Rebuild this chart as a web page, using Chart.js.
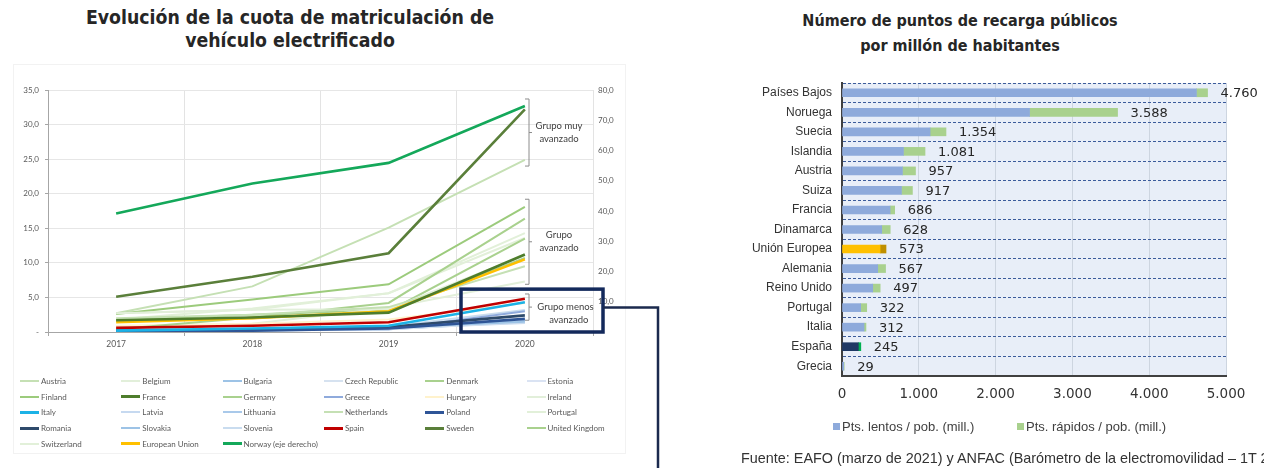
<!DOCTYPE html>
<html>
<head>
<meta charset="utf-8">
<script src="https://cdn.jsdelivr.net/npm/chart.js@4.4.1/dist/chart.umd.min.js"></script>
<style>
html,body{margin:0;padding:0;background:#fff;}
body{width:1264px;height:468px;overflow:hidden;position:relative;}
.abs{position:absolute;}
.title{font-family:"DejaVu Sans Condensed","Liberation Sans Narrow","DejaVu Sans",sans-serif;font-weight:bold;color:#262626;text-align:center;white-space:nowrap;}
#frame{left:13px;top:64px;width:611px;height:388px;border:1px solid #f2f2f2;}
.lg{position:absolute;font-family:Lato,sans-serif;font-size:8px;color:#595959;white-space:nowrap;line-height:10px;}
.lg i{position:absolute;left:-21px;top:4px;width:19px;height:2px;}
.rl{position:absolute;font-family:"Liberation Sans",Arial,sans-serif;font-size:13px;color:#404040;white-space:nowrap;line-height:14px;}
.rl i{position:absolute;left:-9px;top:3px;width:7px;height:7px;}
#src{left:741px;top:450px;font-family:"Liberation Sans",Arial,sans-serif;font-size:14.4px;color:#333;white-space:nowrap;}
</style>
</head>
<body>
<div id="frame" class="abs"></div>
<div class="abs title" style="left:40px;top:6px;width:500px;font-size:19.3px;line-height:23px;">Evolución de la cuota de matriculación de<br>vehículo electrificado</div>
<div class="abs title" style="left:760px;top:8px;width:400px;font-size:16px;line-height:25px;">Número de puntos de recarga públicos<br>por millón de habitantes</div>
<canvas id="left" class="abs" style="left:0;top:0;" width="670" height="468"></canvas>
<canvas id="right" class="abs" style="left:740px;top:0;" width="524" height="468"></canvas>
<div id="legendLeft"></div>
<div id="legendRight"></div>
<div id="src" class="abs">Fuente: EAFO (marzo de 2021) y ANFAC (Barómetro de la electromovilidad – 1T 2021)</div>
<script>
// ---------- Left chart data: share of electrified vehicle registrations (%) ----------
const years = ['2017', '2018', '2019', '2020'];
const austria       = [2.0, 2.5, 3.6, 9.5];
const belgium       = [2.7, 3.2, 3.3, 11.1];
const bulgaria      = [0.3, 0.4, 0.6, 1.5];
const czechRepublic = [0.2, 0.3, 0.4, 1.4];
const denmark       = [0.4, 2.1, 4.2, 16.4];
const estonia       = [0.3, 0.4, 0.6, 1.9];
const finland       = [2.6, 4.7, 6.9, 18.1];
const france        = [1.7, 2.1, 2.8, 11.2];
const germany       = [1.6, 2.0, 3.0, 13.5];
const greece        = [0.1, 0.3, 0.4, 3.0];
const hungary       = [0.9, 1.2, 1.8, 4.2];
const ireland       = [0.8, 1.2, 3.5, 7.3];
const italy         = [0.2, 0.5, 0.9, 4.3];
const latvia        = [0.3, 0.3, 0.5, 1.3];
const lithuania     = [0.2, 0.3, 0.4, 1.5];
const netherlands   = [2.7, 6.6, 15.1, 24.9];
const poland        = [0.1, 0.2, 0.5, 1.9];
const portugal      = [1.8, 3.4, 5.6, 13.6];
const romania       = [0.2, 0.3, 0.7, 2.4];
const slovakia      = [0.2, 0.2, 0.4, 1.6];
const slovenia      = [0.3, 0.5, 0.8, 3.2];
const spain         = [0.6, 0.9, 1.4, 4.8];
const sweden        = [5.1, 8.0, 11.4, 32.2];
const unitedKingdom = [1.8, 2.5, 3.2, 10.7];
const switzerland   = [2.7, 3.2, 5.6, 14.3];
const europeanUnion = [1.4, 2.0, 3.0, 10.5];
const norway        = [39.2, 49.1, 55.9, 74.7]; // right axis

const seriesNames = ['Austria','Belgium','Bulgaria','Czech Republic','Denmark','Estonia','Finland','France','Germany','Greece','Hungary','Ireland','Italy','Latvia','Lithuania','Netherlands','Poland','Portugal','Romania','Slovakia','Slovenia','Spain','Sweden','United Kingdom','Switzerland','European Union','Norway (eje derecho)'];
const seriesValues = [austria,belgium,bulgaria,czechRepublic,denmark,estonia,finland,france,germany,greece,hungary,ireland,italy,latvia,lithuania,netherlands,poland,portugal,romania,slovakia,slovenia,spain,sweden,unitedKingdom,switzerland,europeanUnion,norway];
const seriesColors = ['#c5e0b4','#e2efda','#9dc3e6','#d6e2f0','#a9d18e','#dae3f3','#9ccb7c','#4e7d2c','#a9d18e','#8faadc','#fff2cc','#e2efda','#1cb2e6','#c6d9f0','#a9c9ea','#c5e0b4','#2f5597','#e2f0d9','#2e4a6b','#9dc3e6','#c9dcef','#c00000','#5a7f3a','#a9d18e','#e2f0d9','#ffc000','#14a85a'];
const highlighted = ['France','Italy','Poland','Romania','Spain','Sweden','European Union','Norway (eje derecho)'];

const groupNotes = [
  {text: ['Grupo muy', 'avanzado'], top: 33.7, bottom: 24.0, shift: 0},
  {text: ['Grupo', 'avanzado'], top: 19.2, bottom: 6.9, shift: 0},
  {text: ['Grupo menos', 'avanzado'], top: 5.5, bottom: 1.7, shift: 6.5}
];

// ---------- Right chart data: public charging points per million inhabitants ----------
const regions = ['Países Bajos','Noruega','Suecia','Islandia','Austria','Suiza','Francia','Dinamarca','Unión Europea','Alemania','Reino Unido','Portugal','Italia','España','Grecia'];
const slowPoints = [4615, 2442, 1147, 800, 787, 774, 626, 517, 496, 465, 400, 243, 287, 213, 22];
const fastPoints = [145, 1146, 207, 281, 170, 143, 60, 111, 77, 102, 97, 79, 25, 32, 7];
const barSeriesNames = ['Pts. lentos / pob. (mill.)', 'Pts. rápidos / pob. (mill.)'];

// ---------- helpers ----------
const fmtComma = v => v.toFixed(1).replace('.', ',');
const fmtThousands = n => String(n).replace(/\B(?=(\d{3})+(?!\d))/g, '.');

// ---------- Left chart ----------
const leftDatasets = seriesNames.map((name, i) => {
  const hi = highlighted.includes(name);
  return {
    label: name,
    data: seriesValues[i],
    borderColor: seriesColors[i],
    backgroundColor: seriesColors[i],
    borderWidth: hi ? 2.6 : 2,
    pointRadius: 0,
    tension: 0,
    order: hi ? 0 : 1,
    yAxisID: name.startsWith('Norway') ? 'y1' : 'y'
  };
});

const notesPlugin = {
  id: 'notes',
  afterDraw(chart) {
    const ctx = chart.ctx, ca = chart.chartArea, y = chart.scales.y;
    ctx.save();
    ctx.strokeStyle = '#8c8c8c';
    ctx.lineWidth = 1;
    ctx.fillStyle = '#404040';
    ctx.font = '9.5px Lato, sans-serif';
    ctx.textAlign = 'center';
    ctx.textBaseline = 'middle';
    const bx = ca.right - 64;
    groupNotes.forEach(n => {
      const t = y.getPixelForValue(n.top), b = y.getPixelForValue(n.bottom), m = (t + b) / 2;
      ctx.beginPath();
      ctx.moveTo(bx - 4, t); ctx.lineTo(bx, t); ctx.lineTo(bx, b); ctx.lineTo(bx - 4, b);
      ctx.moveTo(bx, m); ctx.lineTo(bx + 3, m);
      ctx.stroke();
      ctx.fillText(n.text[0], ca.right - 34 + n.shift, m - 6.5 + n.shift);
      ctx.fillText(n.text[1], ca.right - 34 + n.shift * 1.5, m + 6.5 + n.shift);
    });
    // highlight box
    const boxTop = y.getPixelForValue(6.2);
    ctx.strokeStyle = '#13295b';
    ctx.lineWidth = 3.5;
    ctx.strokeRect(ca.right - 132, boxTop, 142, ca.bottom - boxTop);
    // connector
    const cy = (boxTop + ca.bottom) / 2 - 3;
    ctx.lineWidth = 2.5;
    ctx.strokeStyle = '#1b2a4e';
    ctx.beginPath();
    ctx.moveTo(ca.right + 10, cy);
    ctx.lineTo(ca.right + 65, cy);
    ctx.lineTo(ca.right + 65, chart.height);
    ctx.stroke();
    ctx.restore();
  }
};

new Chart(document.getElementById('left'), {
  type: 'line',
  data: {labels: years, datasets: leftDatasets},
  plugins: [notesPlugin],
  options: {
    responsive: false,
    animation: false,
    events: [],
    layout: {padding: {top: 90, bottom: 108, left: 0, right: 0}},
    plugins: {legend: {display: false}, tooltip: {enabled: false}, title: {display: false}},
    scales: {
      x: {
        type: 'category', offset: true,
        grid: {offset: true, color: '#e3e3e3', tickLength: 4, tickColor: '#a6a6a6'},
        border: {color: '#a6a6a6'},
        ticks: {font: {family: 'Lato', size: 8.5}, color: '#595959', padding: 3},
        afterFit(s) { s.height = 28; }
      },
      y: {
        position: 'left', min: 0, max: 35,
        ticks: {stepSize: 5, callback: v => v === 0 ? '-' : fmtComma(v), font: {family: 'Lato', size: 8}, color: '#595959', padding: 6},
        grid: {color: '#e6e6e6', tickLength: 3, tickColor: '#a6a6a6'},
        border: {color: '#a6a6a6'},
        afterFit(s) { s.width = 48; }
      },
      y1: {
        position: 'right', min: 0, max: 80,
        ticks: {stepSize: 10, callback: v => v === 0 ? '' : fmtComma(v), font: {family: 'Lato', size: 8}, color: '#595959', padding: 5},
        grid: {drawOnChartArea: false, drawTicks: false},
        border: {display: false},
        afterFit(s) { s.width = 77; }
      }
    }
  }
});

// Left legend (HTML, 6 columns)
(function () {
  const box = document.getElementById('legendLeft');
  seriesNames.forEach((name, i) => {
    const col = i % 6, row = Math.floor(i / 6);
    const d = document.createElement('div');
    d.className = 'lg';
    d.style.left = (41 + col * 101.3) + 'px';
    d.style.top = (376 + row * 15.7) + 'px';
    const sw = document.createElement('i');
    sw.style.background = seriesColors[i];
    if (highlighted.includes(name)) { sw.style.height = '3px'; sw.style.top = '3.5px'; }
    d.appendChild(sw);
    d.appendChild(document.createTextNode(name));
    box.appendChild(d);
  });
})();

// ---------- Right chart ----------
const slowColors = regions.map(r => r === 'Unión Europea' ? '#ffc000' : r === 'España' ? '#1f3864' : '#8eaadb');
const fastColors = regions.map(r => r === 'Unión Europea' ? '#bf8f00' : r === 'España' ? '#00b050' : '#a9d18e');

const plotBgPlugin = {
  id: 'plotBg',
  beforeDraw(chart) {
    const {ctx, chartArea: ca} = chart;
    ctx.save();
    ctx.fillStyle = '#e8eef8';
    ctx.fillRect(ca.left, ca.top, ca.right - ca.left, ca.bottom - ca.top);
    ctx.restore();
  }
};
const totalsPlugin = {
  id: 'totals',
  afterDatasetsDraw(chart) {
    const {ctx} = chart, xs = chart.scales.x, ys = chart.scales.y;
    ctx.save();
    ctx.fillStyle = '#262626';
    ctx.font = '13px "DejaVu Sans", sans-serif';
    ctx.textAlign = 'left';
    ctx.textBaseline = 'middle';
    regions.forEach((r, i) => {
      const total = slowPoints[i] + fastPoints[i];
      ctx.fillText(fmtThousands(total), xs.getPixelForValue(total) + 13, ys.getPixelForValue(i) + 1);
    });
    ctx.restore();
  }
};

new Chart(document.getElementById('right'), {
  type: 'bar',
  data: {
    labels: regions,
    datasets: [
      {label: barSeriesNames[0], data: slowPoints, backgroundColor: slowColors, barThickness: 8},
      {label: barSeriesNames[1], data: fastPoints, backgroundColor: fastColors, barThickness: 8}
    ]
  },
  plugins: [plotBgPlugin, totalsPlugin],
  options: {
    indexAxis: 'y',
    responsive: false,
    animation: false,
    events: [],
    layout: {padding: {top: 83, bottom: 62, left: 0, right: 38}},
    plugins: {legend: {display: false}, tooltip: {enabled: false}},
    scales: {
      x: {
        stacked: true, min: 0, max: 5000,
        ticks: {stepSize: 1000, callback: v => fmtThousands(v), font: {family: 'DejaVu Sans', size: 13.5}, color: '#333', padding: 10},
        grid: {color: '#cdd5e0', drawTicks: false},
        border: {color: '#404040', width: 2},
        afterFit(s) { s.height = 30; }
      },
      y: {
        stacked: true,
        ticks: {font: {family: 'Liberation Sans', size: 12}, color: '#333', padding: 10},
        grid: {offset: true, color: '#3b5b9b', drawTicks: false},
        border: {color: '#404040', width: 2, dash: [3, 2]},
        afterFit(s) { s.width = 102; }
      }
    }
  }
});

// Right legend (HTML)
(function () {
  const box = document.getElementById('legendRight');
  const lefts = [842, 1026];
  const cols = ['#8eaadb', '#a9d18e'];
  barSeriesNames.forEach((n, i) => {
    const d = document.createElement('div');
    d.className = 'rl';
    d.style.left = lefts[i] + 'px';
    d.style.top = '420px';
    const sw = document.createElement('i');
    sw.style.background = cols[i];
    d.appendChild(sw);
    d.appendChild(document.createTextNode(n));
    box.appendChild(d);
  });
})();
</script>
</body>
</html>
